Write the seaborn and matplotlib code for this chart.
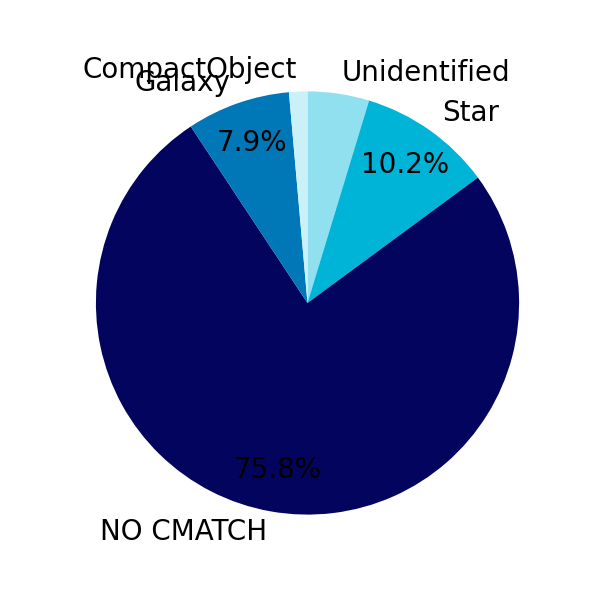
import matplotlib
matplotlib.use("Agg")
import matplotlib.pyplot as plt
import seaborn as sns

sns.set_theme(style="white")
plt.rcParams['font.family'] = ['DejaVu Sans']

categories = ["Unidentified", "Star", "NO CMATCH", "Galaxy", "CompactObject"]
values = [4.7, 10.2, 75.8, 7.9, 1.4]
colors = ["#90e0ef", "#00b4d8", "#03045e", "#0077b6", "#caf0f8"]

fig, ax = plt.subplots(figsize=(6, 6), dpi=100)
ax.pie(values, labels=categories, colors=colors, startangle=90, counterclock=False,
       autopct=lambda p: f"{p:.1f}%" if p > 5 else "", pctdistance=0.8,
       labeldistance=1.1, radius=1.145, wedgeprops={"linewidth": 0},
       textprops={"fontsize": 20, "color": "black"})
fig.savefig("out.png", dpi=100)
